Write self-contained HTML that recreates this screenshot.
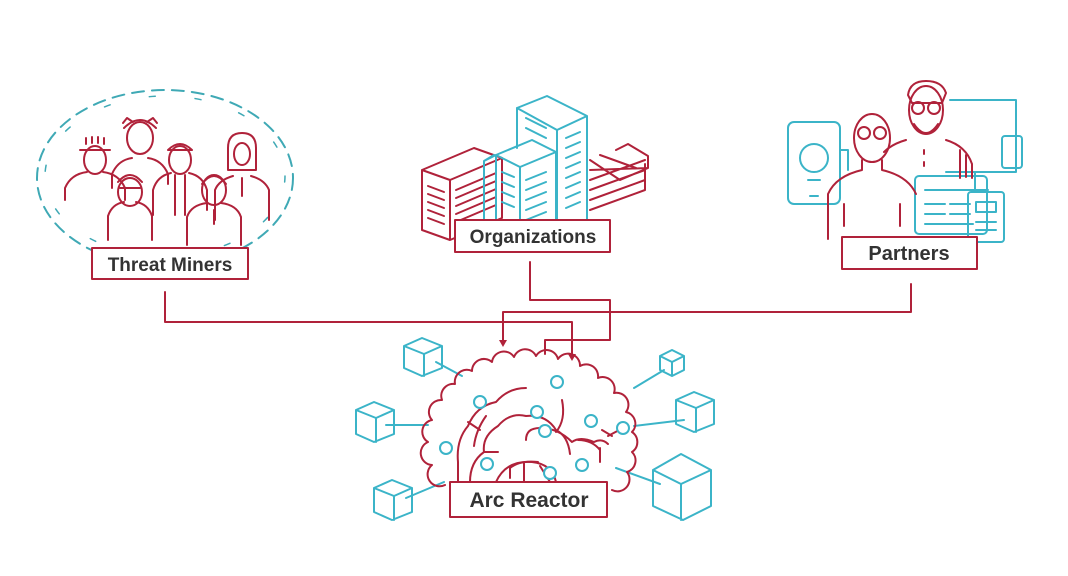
<!DOCTYPE html>
<html><head><meta charset="utf-8"><style>
html,body{margin:0;padding:0;background:#fff;width:1068px;height:576px;overflow:hidden}
svg{display:block}
text{font-family:"Liberation Sans",sans-serif;font-weight:bold;fill:#333}
</style></head><body>
<svg width="1068" height="576" viewBox="0 0 1068 576" xmlns="http://www.w3.org/2000/svg">
<g fill="none" stroke-linecap="round" stroke-linejoin="round">
<ellipse cx="165" cy="178" rx="128" ry="88" stroke="#3fa9b5" stroke-width="2" stroke-dasharray="12 8"/>
<ellipse cx="165" cy="176" rx="120" ry="80" stroke="#3fa9b5" stroke-width="1.5" stroke-dasharray="6 40"/>
<g stroke="#b0223a" stroke-width="2">
 <ellipse cx="95" cy="160" rx="11" ry="14"/><path d="M80 150h30M86 144v-6M92 143v-6M98 143v-6M104 144v-6"/>
 <path d="M65 200v-12q6-14 22-16M103 172q16 2 22 16v12"/>
 <ellipse cx="140" cy="138" rx="13" ry="16"/><path d="M124 128q16-16 32 0M123 123l4-5 6 4M157 123l-4-5-6 4"/>
 <path d="M112 188v-14q6-14 20-16M148 158q14 2 20 16v10"/>
 <ellipse cx="180" cy="160" rx="11" ry="14"/><path d="M168 150h24M168 150q12-12 24 0"/>
 <path d="M153 215v-25q4-14 18-17M189 173q14 3 18 17v20M175 175v40M185 175v40"/>
 <path d="M228 170v-22q0-15 14-15t14 15v22h-28z"/><ellipse cx="242" cy="154" rx="8" ry="11"/>
 <path d="M215 220v-30q4-10 18-14M251 176q14 4 18 14v30M242 178v18"/>
 <ellipse cx="130" cy="192" rx="12" ry="14"/><path d="M120 188h20M118 182q12-14 24 0"/>
 <path d="M108 240v-24q4-12 16-14M136 202q12 2 16 14v24"/>
 <ellipse cx="214" cy="190" rx="12" ry="15"/><path d="M202 184q12-16 24 0"/>
 <path d="M187 245v-28q4-12 20-14M221 203q16 2 20 14v28M214 210v14"/>
</g>
<g stroke="#b0223a" stroke-width="2">
 <path d="M422 170l52-22 28 10v60l-52 22-28-10z M422 170l28 10v60M450 180l52-22"/>
 <path d="M456 190l40-17M456 198l40-17M456 206l40-17M456 214l40-17M456 222l40-17M428 186l16 6M428 194l16 6M428 202l16 6M428 210l16 6M428 218l16 6"/>
 <path d="M590 160l30 20 28-12v-12l-20-12-12 6M590 170l58-2M590 180l55-20M590 190l55-20M590 200l55-20M590 210l55-20v-26M600 155l36 13"/>
</g>
<g stroke="#3bb4c8" stroke-width="2">
 <path d="M517 108l30-12 40 20v110l-30 12M517 108l40 22v108M557 130l30-14M517 108v40"/>
 <path d="M566 138l14-6M566 148l14-6M566 158l14-6M566 168l14-6M566 178l14-6M566 188l14-6M566 198l14-6M566 208l14-6M526 118l20 10M526 128l20 10"/>
 <path d="M496 155l36-15 24 12v90M496 155l24 12v76M520 167l36-15M496 155v80"/>
 <path d="M526 180l20-8M526 190l20-8M526 200l20-8M526 210l20-8M526 220l20-8M526 230l20-8M502 172l12 5M502 182l12 5M502 192l12 5M502 202l12 5"/>
 <path d="M496 155l-12 6v60M484 161l10-6"/>
</g>
<g stroke="#3bb4c8" stroke-width="2">
 <rect x="788" y="122" width="52" height="82" rx="6"/><circle cx="814" cy="158" r="14"/><path d="M808 180h12M810 196h8"/>
 <path d="M950 100h66v72h-70"/><rect x="1002" y="136" width="20" height="32" rx="3"/>
 <path d="M975 172v18M962 190h26"/>
 <rect x="915" y="176" width="72" height="58" rx="4"/><path d="M925 190h48M925 204h20M950 204h20M925 214h20M950 214h20M925 224h48"/>
 <rect x="968" y="192" width="36" height="50" rx="3"/><path d="M976 202h20v10h-20zM976 222h20M976 230h20"/>
 <path d="M840 150h8v20"/>
</g>
<g stroke="#b0223a" stroke-width="2">
 <ellipse cx="872" cy="138" rx="18" ry="24"/><circle cx="864" cy="133" r="6"/><circle cx="880" cy="133" r="6"/>
 <path d="M862 160v10q-26 6-34 24v45M882 160v10q26 6 34 24M844 204v22M900 204v22"/>
 <path d="M908 95q2-14 18-14t20 12l-4 10h-30z"/><ellipse cx="926" cy="110" rx="17" ry="24"/>
 <circle cx="918" cy="108" r="6"/><circle cx="934" cy="108" r="6"/><path d="M914 124q12 18 24 0"/>
 <path d="M906 140q-14 4-22 12M946 140q20 6 26 24v14M924 150v4M924 162v4M960 150v28M966 155v22"/>
</g>
<g stroke="#b0223a" stroke-width="2">
 <path d="M165 292v30h407v34"/>
 <path d="M530 262v38h80v40h-65v14"/>
 <path d="M911 284v28h-408v30"/>
</g>
<g fill="#b0223a"><path d="M568 354l4 7 4-7z"/><path d="M499 340l4 7 4-7z"/></g>
<g stroke="#3bb4c8" stroke-width="2">
 <path d="M404 346l18-8 20 8v22l-20 8-18-8z M404 346l20 8 18-8M424 354v22M436 362l26 14"/>
 <path d="M356 410l18-8 20 8v24l-20 8-18-8z M356 410l20 8 18-8M376 418v24M386 425h42"/>
 <path d="M374 488l18-8 20 8v24l-20 8-18-8z M374 488l20 8 18-8M394 496v24M406 498l38-16"/>
 <path d="M660 356l12-6 12 6v14l-12 6-12-6z M660 356l12 6 12-6M672 362v14M664 370l-30 18"/>
 <path d="M676 400l18-8 20 8v24l-20 8-18-8z M676 400l20 8 18-8M696 408v24M684 420l-50 6"/>
 <path d="M653 470l28-16 30 16v36l-28 14-30-14z M653 470l28 14 30-14M681 484v36M660 484l-44-16"/>
</g>
<g stroke="#b0223a" stroke-width="2">
 <path d="M445 485A12 12 0 0 1 432 465A12 12 0 0 1 428 442A12 12 0 0 1 432 420A12 12 0 0 1 442 400A12 12 0 0 1 455 384A12 12 0 0 1 472 371A12 12 0 0 1 492 362A12 12 0 0 1 514 357A12 12 0 0 1 536 356A12 12 0 0 1 558 359A12 12 0 0 1 580 366A12 12 0 0 1 598 378A12 12 0 0 1 614 393A12 12 0 0 1 626 412A12 12 0 0 1 632 432A12 12 0 0 1 632 452A12 12 0 0 1 627 472A12 12 0 0 1 612 490"/>
 <path d="M458 482v-20q-2-22 10-36q8-20 28-24q12-14 30-14M470 482q0-20 14-30q-2-16 14-26q12-14 28-10q20-2 30 14q12 6 14 24M468 422l12 8M484 452h14"/>
 <path d="M496 482q10-22 36-20q20 2 24 20M524 462v20M540 466l10 16"/>
 <path d="M526 440q0-12 14-12q18 0 32 14q8-6 22 0q8-4 14 2M578 440q14 0 22 10M600 448v14M608 436l15-8"/>
 <path d="M562 400q4 20-6 32M510 478v-10q10-8 28-6"/>
 <path d="M486 416q-10 14-12 30M602 430l10 6"/>
</g>
<g stroke="#3bb4c8" stroke-width="2" fill="#fff">
 <circle cx="480" cy="402" r="6"/><circle cx="446" cy="448" r="6"/><circle cx="487" cy="464" r="6"/>
 <circle cx="537" cy="412" r="6"/><circle cx="545" cy="431" r="6"/><circle cx="557" cy="382" r="6"/>
 <circle cx="591" cy="421" r="6"/><circle cx="623" cy="428" r="6"/><circle cx="582" cy="465" r="6"/>
 <circle cx="550" cy="473" r="6"/>
</g>
<g stroke="#b0223a" stroke-width="2" fill="#fff">
 <rect x="92" y="248" width="156" height="31"/>
 <rect x="455" y="220" width="155" height="32"/>
 <rect x="842" y="237" width="135" height="32"/>
 <rect x="450" y="482" width="157" height="35"/>
</g>
</g>
<text x="170" y="271" font-size="19" text-anchor="middle">Threat Miners</text>
<text x="533" y="243" font-size="19" text-anchor="middle">Organizations</text>
<text x="909" y="260" font-size="20" text-anchor="middle">Partners</text>
<text x="529" y="507" font-size="21" text-anchor="middle">Arc Reactor</text>
</svg>
</body></html>
